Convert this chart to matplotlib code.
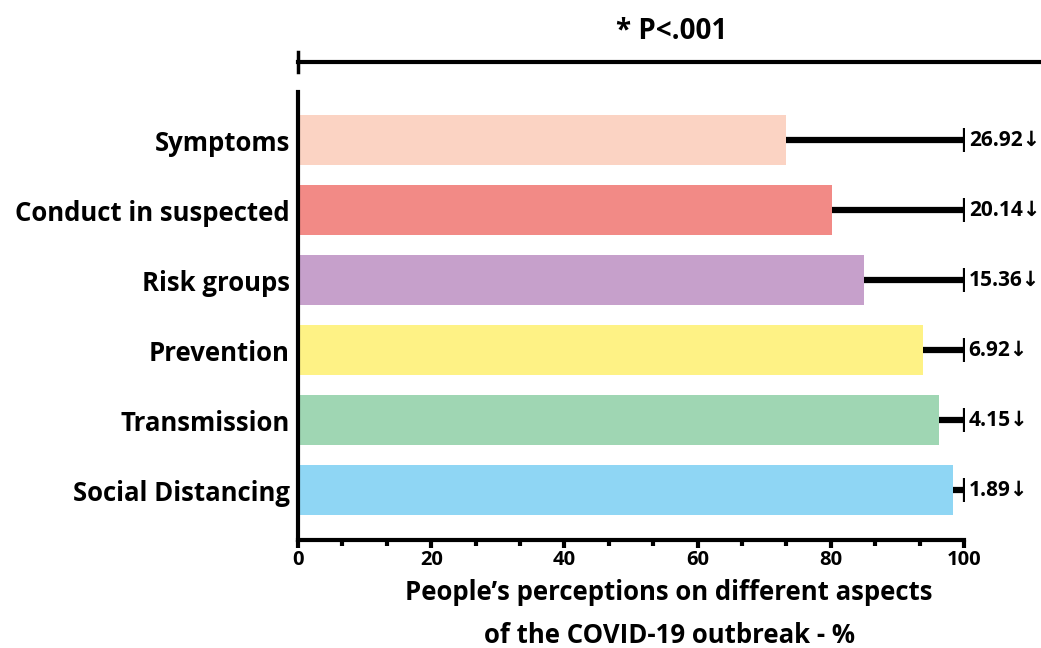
import matplotlib.pyplot as plt
from matplotlib.lines import Line2D
from matplotlib.ticker import MultipleLocator

categories = ['Social Distancing', 'Transmission', 'Prevention', 'Risk groups',
              'Conduct in suspected', 'Symptoms']
percent = [98.4, 96.2, 93.9, 85.0, 80.2, 73.3]
gap = [1.89, 4.15, 6.92, 15.36, 20.14, 26.92]
colors = ['#8fd6f4', '#9fd6b3', '#fef285', '#c6a0cb', '#f28a86', '#fbd3c3']
full = 100

plt.rcParams['font.family'] = ['Open Sans', 'DejaVu Sans']
plt.rcParams['font.weight'] = 'bold'

fig = plt.figure(figsize=(10.41, 6.48), dpi=100)
ax = fig.add_axes([0.2863, 0.1667, 0.6398, 0.6913])

ypos = list(range(len(categories)))
ax.barh(ypos, percent, height=0.714, color=colors, zorder=2)

# einseitige Fehlerbalken bis 100 %
ax.errorbar(percent, ypos, xerr=[[0] * len(percent), [full - p for p in percent]],
            fmt='none', ecolor='black', elinewidth=4.5, capsize=0, zorder=3)
ax.plot([full] * len(ypos), ypos, linestyle='none', marker='|', markersize=17,
        markeredgewidth=1.6, color='black', zorder=4)

for y, g in zip(ypos, gap):
    ax.text(full + 0.7, y, f'{g:.2f}\u2193', va='center', ha='left',
            fontsize=15, fontweight='bold')

ax.set_xlim(0, 100)
ax.set_ylim(-0.714, 5.686)
ax.set_yticks(ypos)
ax.set_yticklabels(categories, fontsize=18.5, fontweight='bold')
ax.tick_params(axis='y', length=0, pad=6)

ax.xaxis.set_major_locator(MultipleLocator(20))
ax.xaxis.set_minor_locator(MultipleLocator(20 / 3))
ax.tick_params(axis='x', which='major', length=6, width=3, labelsize=14.5, pad=1)
ax.tick_params(axis='x', which='minor', length=4, width=3)
for lbl in ax.get_xticklabels():
    lbl.set_fontweight('bold')

for s in ['top', 'right']:
    ax.spines[s].set_visible(False)
for s in ['left', 'bottom']:
    ax.spines[s].set_linewidth(3)

fig.text(0.6427, 0.052, "People\u2019s perceptions on different aspects\nof the COVID-19 outbreak - %",
         ha='center', va='center', fontsize=18.5, fontweight='bold', linespacing=1.75)

# Signifikanz-Klammer oben
fig.add_artist(Line2D([0.2863, 1.0], [0.904, 0.904], color='black', lw=3))
fig.add_artist(Line2D([0.2863, 0.2863], [0.889, 0.920], color='black', lw=2.5))
fig.text(0.645, 0.952, '* P<.001', ha='center', va='center',
         fontsize=20, fontweight='bold')

fig.savefig('out.png', dpi=100)
